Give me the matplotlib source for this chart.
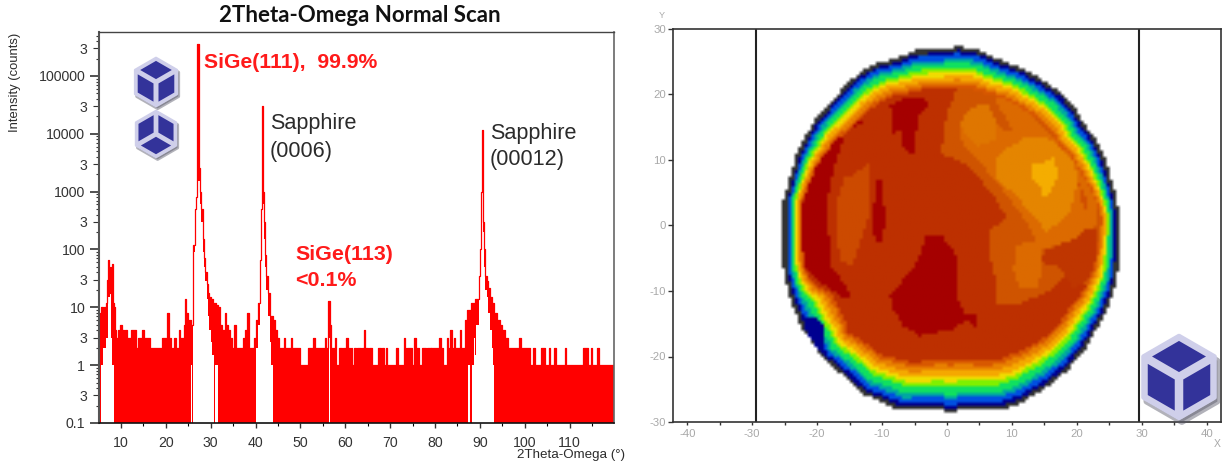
import numpy as np
import matplotlib
matplotlib.use('Agg')
import matplotlib.pyplot as plt
from matplotlib.colors import to_rgb
from matplotlib.patches import Polygon
from matplotlib.path import Path

plt.rcParams['font.family'] = ['Liberation Sans', 'DejaVu Sans']

FIG_W, FIG_H = 1225, 466

# --- 2Theta-Omega scan, upper outline of the trace (step values) ---
scan_angle = [
    5.1, 5.4, 5.6, 6.0, 6.3, 6.6, 6.8, 7.0, 7.2, 7.4, 7.6, 7.8, 8.0, 8.2, 8.4, 8.6,
    9.0, 9.3, 9.8, 10.2, 10.6, 11.0, 11.4, 12.3, 13.4, 13.7, 14.6, 15.1, 16.5, 19.2, 19.8,
    20.3, 20.6, 21.1, 21.9, 22.3, 22.9, 23.2, 24.0, 24.3, 24.6, 25.0, 25.7, 26.0,
    26.1, 26.4, 26.6, 26.8, 27.0, 27.35, 27.6, 27.9, 28.2, 28.5, 28.8, 29.1, 29.4, 29.7,
    30.0, 30.6, 31.2, 31.7, 32.0, 32.6, 33.1, 33.4, 33.8, 34.3, 34.7, 35.2, 35.6, 37.2,
    37.7, 38.1, 38.5, 39.7, 40.1, 40.6, 40.9, 41.1, 41.2, 41.35, 41.42, 41.6, 41.8, 42.0,
    42.4, 42.8, 43.2, 43.8, 44.3, 44.8, 45.3, 46.3, 46.6, 47.8, 48.1, 49.8, 51.8, 52.9,
    53.3, 55.5, 55.8, 56.2, 56.6, 56.9, 57.6, 58.0, 58.5, 59.2, 59.6, 60.1, 60.5, 61.0,
    61.3, 61.6, 61.9, 62.4, 62.7, 63.5, 63.8, 64.2, 64.5, 65.0, 65.3, 66.0, 67.3, 67.9,
    68.2, 68.7, 69.0, 69.4, 71.4, 71.8, 73.0, 73.3, 73.6, 73.8, 74.9, 75.4, 75.7, 76.4,
    77.0, 77.9, 78.2, 79.0, 79.2, 81.0, 81.3, 81.8, 82.7, 83.0, 83.4, 83.7, 84.2, 84.5,
    85.5, 85.8, 86.7, 87.2, 88.0, 89.0, 89.8, 90.1, 90.3, 90.4, 90.65, 90.8, 91.0, 91.2,
    91.5, 91.9, 92.3, 92.7, 93.2, 93.8, 94.4, 95.0, 95.6, 96.3, 98.8, 99.1, 101.2, 101.8,
    102.2, 103.7, 104.6, 105.3, 105.6, 106.6, 107.0, 109.0, 109.3, 113.0, 114.0, 114.7,
    115.0, 116.1, 116.6, 119.9,
]
scan_counts = [
    8, 6, 10, 8, 10, 12, 30, 50, 65, 50, 18, 50, 55, 12, 10, 4,
    3, 4, 5, 4, 3, 4, 3, 4, 2, 3, 4, 3, 2, 3, 3,
    8, 3, 2, 3, 2, 4, 3, 5, 14, 8, 6, 5, 10,
    120, 200, 500, 800, 350000, 2600, 1000, 500, 150, 70, 40, 25, 18, 15,
    14, 12, 11, 10, 5, 4, 8, 5, 4, 3, 2, 5, 2, 3,
    4, 8, 2, 3, 6, 12, 30, 65, 500, 1000, 30000, 1000, 300, 80,
    35, 18, 7, 6, 4, 3, 2, 3, 2, 3, 2, 1, 2, 3,
    2, 3, 2, 13, 5, 2, 3, 1, 2, 1, 2, 3, 2, 1,
    2, 1, 2, 1, 2, 1, 2, 4, 2, 1, 2, 1, 2, 1,
    2, 1, 2, 1, 2, 1, 3, 2, 1, 2, 1, 3, 2, 1,
    2, 1, 2, 1, 2, 3, 2, 1, 3, 2, 4, 2, 3, 2,
    4, 2, 6, 9, 12, 14, 35, 100, 1000, 11700, 1500, 300, 100, 35,
    28, 22, 15, 12, 8, 6, 5, 4, 3, 2, 3, 2, 1, 2,
    1, 2, 1, 2, 1, 2, 1, 2, 1, 2, 1, 2,
    1, 2, 1, 1,
]

# white space left under the trace (no zero counts next to the peaks)
gap_angle = [
    5.1, 5.45, 6.0, 6.6, 7.0, 7.6, 7.7, 8.1, 8.5, 25.6, 25.85, 26.1, 26.4, 26.6, 26.8, 27.0,
    27.35, 27.6, 27.9, 28.2, 28.5, 28.8, 29.1, 29.4, 29.7, 30.0, 30.3, 30.7, 31.0, 31.6,
    40.1, 40.5, 40.9, 41.1, 41.2, 41.35, 41.42, 41.6, 41.8, 42.0, 42.4, 42.8, 43.2, 43.5, 43.8,
    56.4, 56.6, 87.4, 87.7, 88.2, 88.7, 89.0, 89.2, 89.7, 90.1, 90.3, 90.4, 90.65, 90.8,
    91.0, 91.2, 91.5, 91.9, 92.3, 92.7, 93.0, 93.2, 119.4, 119.5, 119.9,
]
gap_counts = [
    0.1, 1, 2, 3, 15, 30, 3, 1, 0.1, 1, 0.1, 90, 150, 350, 500, 1500,
    1500, 600, 300, 90, 50, 28, 14, 7, 4, 2.5, 1.5, 0.1, 1, 0.1,
    2, 5, 20, 40, 300, 700, 3000, 600, 150, 50, 20, 7, 2.5, 1, 0.1,
    3, 0.1, 1, 0.1, 1, 3, 1.5, 5, 20, 60, 600, 2000, 800, 200,
    50, 20, 15, 8, 4, 2, 1, 0.1, 1, 0.1, 0.1,
]

decade_ticks = [0.1, 1, 10, 100, 1000, 10000, 100000]
decade_labels = ['0.1', '1', '10', '100', '1000', '10000', '100000']
scan_x_ticks = [10, 20, 30, 40, 50, 60, 70, 80, 90, 100, 110]

# --- wafer map: outer outline and rim width read at each outline point ---
wafer_x = [-25.25, -24.2, -23.2, -22.2, -20.9, -19.3, -16.5, -15.2, -12.9, -10.9, -7.8, -4.7, -1.1,
           1.7, 5.05, 7.9, 11.5, 15.1, 17.6, 19.7, 21.2, 22.8, 24.3, 25.3, 26.1, 26.5,
           26.5, 26.1, 25.3, 24.6, 23.3, 21.2, 18.7, 15.6, 11.5, 8.6, 1.7, 1.5, -0.3, -0.6,
           -7.3, -9.3, -13.2, -16.0, -19.3, -20.1, -22.2, -23.5, -24.2, -24.8, -25.3, -25.3]
wafer_y = [3.97, 7.5, 11.0, 12.9, 15.4, 17.5, 20.5, 22.0, 23.8, 24.8, 25.6, 26.8, 26.9,
           27.4, 26.8, 25.4, 24.1, 22.0, 20.3, 18.0, 15.4, 13.4, 10.3, 7.0, 4.0, 1.4,
           -4.1, -8.4, -11.0, -13.0, -15.3, -18.9, -21.9, -24.5, -27.0, -28.0, -28.2, -28.7, -28.7, -28.2,
           -28.2, -27.3, -25.6, -22.9, -20.2, -18.6, -16.1, -13.0, -11.2, -9.0, -6.4, 0.0]
rim_width = [2.3, 2.5, 3.0, 3.3, 3.8, 4.3, 4.7, 4.8, 5.0, 5.0, 5.0, 5.5, 5.5,
             5.8, 5.5, 5.0, 4.8, 4.8, 4.8, 4.6, 4.5, 4.2, 3.8, 3.0, 2.5, 2.3,
             2.8, 3.3, 3.8, 4.2, 4.6, 5.0, 5.5, 6.2, 6.8, 7.0, 7.2, 7.6, 7.6, 7.2,
             7.0, 6.6, 6.0, 5.5, 5.0, 5.2, 6.0, 5.5, 4.0, 3.0, 2.6, 2.3]
rim_fractions = [0, 0.08, 0.2, 0.3, 0.45, 0.55, 0.65, 0.78, 0.9, 1.0]
rim_colors = ['#333333', '#000090', '#0050e0', '#00a8a0', '#10e060', '#80f000',
              '#f0dc00', '#f5a800', '#e88000', '#d85800', '#bd3000']

notch_x = [-22.2, -19.6, -18.8, -19.1, -20.6, -21.9]
notch_y = [-13.8, -14.3, -16.3, -19.9, -17.9, -15.8]

# thickness zones inside the rim
left_dark_x = [-12.4, -15.5, -17.0, -18.3, -18.3, -17.8, -16.0, -14.5, -16.5, -19.6, -22.2, -23.2, -21.6, -18.6, -14.5]
left_dark_y = [16.2, 14.4, 10.6, 5.0, -1.1, -6.2, -8.7, -11.2, -10.7, -8.7, -6.2, 0.0, 6.0, 13.1, 16.0]
top_dark_x = [-8.8, -6.2, -3.2, -2.9, -4.5, -5.0, -5.0, -7.0, -6.8, -8.3]
top_dark_y = [18.5, 19.5, 19.2, 18.5, 16.7, 12.6, 10.6, 12.2, 14.6, 14.1]
strip_dark_x = [-10.9, -9.8, -10.1, -9.3, -9.8, -10.0, -11.2, -11.4]
strip_dark_y = [6.8, 6.8, 2.9, 2.6, -1.1, -2.6, -2.8, 2.0]
centre_dark_x = [-3.4, -0.85, 1.2, 1.7, 1.7, 2.7, 4.5, 4.7, 3.3, 0.7, -1.9, -4.2, -6.8, -8.3, -8.8, -6.8, -4.7, -3.7]
centre_dark_y = [-1.6, -1.6, -4.1, -7.7, -11.2, -13.3, -13.3, -16.1, -14.3, -15.8, -16.3, -16.8, -15.3, -12.8, -10.7, -8.2, -5.6, -3.1]
left_zone_x = [-15.0, -11.9, -11.9, -14.5, -16.5, -17.0, -17.0, -15.5]
left_zone_y = [7.5, 9.6, 2.0, -5.9, -5.6, -1.1, 4.0, 8.0]
right_zone_x = [1.46, -0.08, -0.6, -1.1, 2.5, 5.05, 7.1, 9.2, 6.6, 6.3, 7.4, 7.6, 11.2, 15.8, 18.2, 23.0, 25.6, 22.0, 15.0, 8.0, 1.46]
right_zone_y = [20.8, 17.2, 13.1, 11.1, 9.6, 7.0, 4.5, 1.2, -0.6, -3.7, -8.2, -11.8, -11.8, -10.0, -7.7, -9.8, 2.0, 14.0, 21.0, 24.0, 24.0]
right_low_x = [16.6, 14.6, 14.8, 19.4, 21.2, 22.8, 23.0, 21.7, 19.4, 18.2]
right_low_y = [-6.0, -5.7, -3.9, -2.1, -0.6, -0.6, -5.2, -8.2, -9.8, -7.7]
arm_x = [2.0, 4.0, 6.3, 7.6, 8.6, 9.9, 8.9, 7.4, 7.9, 12.2, 16.3, 19.4, 21.5, 23.0, 23.0, 21.2, 19.4,
         14.6, 14.6, 14.0, 11.0, 10.2, 10.4, 11.5, 13.5, 13.3, 11.2, 8.1, 5.05, 2.0]
arm_y = [15.9, 18.2, 18.5, 15.9, 14.4, 14.7, 16.9, 18.7, 20.5, 17.7, 13.6, 10.1, 7.0, 4.0, -0.1, -0.6, -2.1,
         -3.7, -5.7, -9.3, -9.3, -6.7, -3.4, -2.6, -2.4, -1.4, 1.9, 6.0, 9.6, 13.1]
arm_slit_x = [20.2, 21.7, 21.7, 20.7]
arm_slit_y = [6.5, 4.0, 1.4, 3.5]
upper_zone_x = [7.6, 8.6, 12.0, 14.8, 17.4, 19.4, 20.2, 19.4, 18.9, 15.3, 13.3, 10.7, 7.6]
upper_zone_y = [10.6, 11.6, 13.4, 13.6, 12.1, 9.6, 7.0, 4.0, 1.9, -0.9, 1.4, 4.5, 7.0]
upper_left_x = [2.0, 4.0, 6.3, 7.6, 7.6, 4.5, 2.5]
upper_left_y = [15.9, 18.2, 18.5, 15.9, 13.0, 12.1, 14.2]
hot_x = [12.8, 14.8, 16.3, 17.2, 16.6, 15.6, 14.6, 14.3, 13.3]
hot_y = [9.3, 9.6, 10.3, 8.1, 6.5, 4.5, 4.7, 6.0, 7.0]

zone_colors = ['#a50000', '#cc4a00', '#cf5400', '#bf3600', '#dc6a00', '#d04e00', '#e58500', '#f5ad00', '#df7600']

wafer_centre = (0.4, -0.7)
cell = 0.5
edge_width = 0.6

map_x_ticks = [-40, -30, -20, -10, 0, 10, 20, 30, 40]
map_y_ticks = [-30, -20, -10, 0, 10, 20, 30]
window_lines = [-29.4, 29.5]

GREY_TEXT = '#a8a8a8'
DARK_TEXT = '#2b2b2b'


def px_axes(fig, left, top, right, bottom):
    return fig.add_axes([left / FIG_W, 1 - bottom / FIG_H,
                         (right - left) / FIG_W, (bottom - top) / FIG_H])


def inset_outline(inset):
    # move every outline point toward the wafer centre
    xs = np.array(wafer_x) - wafer_centre[0]
    ys = np.array(wafer_y) - wafer_centre[1]
    radius = np.hypot(xs, ys)
    scale = 1 - inset / radius
    return np.column_stack([wafer_centre[0] + xs * scale, wafer_centre[1] + ys * scale])


def build_wafer_cells():
    xe = np.arange(-27.0, 27.5 + cell, cell)
    ye = np.arange(-29.5, 28.5 + cell, cell)
    xc, yc = np.meshgrid(xe[:-1] + cell / 2, ye[:-1] + cell / 2)
    pts = np.column_stack([xc.ravel(), yc.ravel()])
    cells = np.full(xc.shape, -1)

    outline = np.column_stack([wafer_x, wafer_y])
    cells[Path(outline).contains_points(pts).reshape(xc.shape)] = 0
    for i, frac in enumerate(rim_fractions):
        inset = edge_width + frac * np.array(rim_width)
        inside = Path(inset_outline(inset)).contains_points(pts).reshape(xc.shape)
        cells[inside] = i + 1
    base = len(rim_colors) - 1
    interior = cells == base

    n_rim = len(rim_colors)
    zones = [
        (left_dark_x, left_dark_y, 0), (top_dark_x, top_dark_y, 0),
        (strip_dark_x, strip_dark_y, 0), (centre_dark_x, centre_dark_y, 0),
        (left_zone_x, left_zone_y, 1), (right_zone_x, right_zone_y, 2),
        (right_low_x, right_low_y, 3), (arm_x, arm_y, 4), (arm_slit_x, arm_slit_y, 5),
        (upper_zone_x, upper_zone_y, 6), (upper_left_x, upper_left_y, 8), (hot_x, hot_y, 7),
    ]
    for zx, zy, colour in zones:
        inside = Path(np.column_stack([zx, zy])).contains_points(pts).reshape(xc.shape)
        cells[inside & interior] = n_rim + colour

    # dark notch in the lower left of the rim
    inside = Path(np.column_stack([notch_x, notch_y])).contains_points(pts).reshape(xc.shape)
    cells[inside] = 1
    return xe, ye, cells


def draw_cube(ax, cx, cy, r, flipped=False):
    angles = np.radians([90, 30, -30, -90, -150, 150])
    sign = 1 if flipped else -1
    hx = cx + r * np.cos(angles)
    hy = cy + sign * r * np.sin(angles)
    hexagon = np.column_stack([hx, hy])
    ax.add_patch(Polygon(hexagon + [r * 0.07, r * 0.1], closed=True, fc='#555566',
                         ec='#555566', lw=r * 0.1, alpha=0.45, joinstyle='round'))
    ax.add_patch(Polygon(hexagon, closed=True, fc='#cfcfea', ec='#cfcfea',
                         lw=r * 0.08, joinstyle='round'))
    centre = np.array([cx, cy])
    faces = [[0, 1, None, 5], [5, None, 3, 4], [1, 2, 3, None]]
    for face in faces:
        corners = np.array([centre if i is None else hexagon[i] for i in face])
        mid = corners.mean(axis=0)
        shrunk = mid + (corners - mid) * 0.76
        ax.add_patch(Polygon(shrunk, closed=True, fc='#33339a', ec='none'))


def plot_scan(fig):
    ax = px_axes(fig, 99, 32, 614, 423)
    ax.fill_between(scan_angle, 0.1, scan_counts, step='post', color='#ff0000', lw=0)
    ax.fill_between(gap_angle, 0.1, gap_counts, step='post', color='white', lw=0)
    ax.step(scan_angle, scan_counts, where='post', color='#ff0000', lw=0.9)
    ax.set_yscale('log')
    ax.set_xlim(5.1, 119.9)
    ax.set_ylim(0.1, 5.75e5)

    ax.set_yticks(decade_ticks, labels=decade_labels)
    minor = [m * d for d in decade_ticks for m in range(2, 10)]
    minor = [v for v in minor if v < 5.75e5]
    ax.set_yticks(minor, labels=['3' if abs(v / 10 ** np.floor(np.log10(v) + 1e-9) - 3) < 1e-6 else '' for v in minor],
                  minor=True)
    ax.tick_params(axis='y', which='major', length=9.5 * 0.72, width=1.2, pad=3, labelsize=10.2, colors='#333333')
    ax.tick_params(axis='y', which='minor', length=3.5 * 0.72, width=0.8, pad=6, labelsize=10.2, colors='#333333')
    for tick in ax.yaxis.get_minor_ticks():
        if tick.label1.get_text() == '3':
            tick.tick1line.set_markersize(6 * 0.72)

    ax.set_xticks(scan_x_ticks, labels=[str(v) for v in scan_x_ticks])
    ax.set_xticks([v + 5 for v in scan_x_ticks], minor=True)
    ax.tick_params(axis='x', which='major', length=5 * 0.72, width=1.0, pad=6, labelsize=10.2, colors='#333333')
    ax.tick_params(axis='x', which='minor', length=3 * 0.72, width=0.8)

    ax.spines['left'].set(color='#555555', linewidth=1.5)
    ax.spines['top'].set(color='#444444', linewidth=1.0)
    ax.spines['right'].set(color='#666666', linewidth=1.2)
    ax.spines['bottom'].set(color='#111111', linewidth=1.2)
    return ax


def plot_wafer(fig):
    ax = px_axes(fig, 673, 29, 1221, 422)
    xe, ye, cells = build_wafer_cells()
    palette = np.array([to_rgb(c) for c in ['white'] + rim_colors + zone_colors])
    ax.imshow(palette[cells + 1], origin='lower', extent=(xe[0], xe[-1], ye[0], ye[-1]),
              aspect='auto', interpolation='bilinear')
    for v in window_lines:
        ax.axvline(v, color='#222222', lw=1.5)
    ax.set_xlim(-42.2, 42.2)
    ax.set_ylim(-30, 30)
    ax.set_xticks(map_x_ticks, labels=[str(v) for v in map_x_ticks])
    ax.set_yticks(map_y_ticks, labels=[str(v) for v in map_y_ticks])
    ax.set_xticks([v + 5 for v in map_x_ticks[:-1]], minor=True)
    ax.tick_params(axis='x', which='major', length=3 * 0.72, width=1.0, color='#333333',
                   labelcolor=GREY_TEXT, labelsize=8.2, pad=3)
    ax.tick_params(axis='x', which='minor', length=3 * 0.72, width=1.0, color='#333333')
    ax.tick_params(axis='y', which='major', length=5 * 0.72, width=1.0, color='#333333',
                   labelcolor=GREY_TEXT, labelsize=8.2, pad=1.5)
    for side in ax.spines.values():
        side.set(color='#333333', linewidth=1.2)
    return ax


fig = plt.figure(figsize=(FIG_W / 100, FIG_H / 100), dpi=100, facecolor='white')

plot_scan(fig)
plot_wafer(fig)

# overlay in pixel coordinates for labels and the crystal icons
over = fig.add_axes([0, 0, 1, 1], facecolor='none')
over.set_xlim(0, FIG_W)
over.set_ylim(FIG_H, 0)
over.axis('off')

over.text(360, 15.5, '2Theta-Omega Normal Scan', family='Lato', weight='bold', fontsize=16,
          color='#111111', ha='center', va='center')
over.text(15, 82, 'Intensity (counts)', rotation=90, fontsize=9.4, color=DARK_TEXT, ha='center', va='center')
over.text(571, 455, '2Theta-Omega (°)', fontsize=9.6, color=DARK_TEXT, ha='center', va='center')
over.text(204, 62, 'SiGe(111),  99.9%', weight='bold', fontsize=15.2, color='#ff1a1a', va='center')
over.text(270, 123.5, 'Sapphire', fontsize=15.6, color=DARK_TEXT, va='center')
over.text(270, 151.5, '(0006)', fontsize=15.6, color=DARK_TEXT, va='center')
over.text(490, 133, 'Sapphire', fontsize=15.6, color=DARK_TEXT, va='center')
over.text(490, 160, '(00012)', fontsize=15.6, color=DARK_TEXT, va='center')
over.text(295, 254, 'SiGe(113)', weight='bold', fontsize=15.4, color='#ff1a1a', va='center')
over.text(295, 281, '<0.1%', weight='bold', fontsize=15.4, color='#ff1a1a', va='center')
over.text(662, 16, 'Y', fontsize=6.5, color=GREY_TEXT, ha='center', va='center')
over.text(1217, 444, 'X', fontsize=7.5, color=GREY_TEXT, ha='center', va='center')

draw_cube(over, 156, 82, 24)
draw_cube(over, 156, 134, 23, flipped=True)
draw_cube(over, 1179, 377, 41)

fig.savefig('out.png', dpi=100)
plt.close(fig)
